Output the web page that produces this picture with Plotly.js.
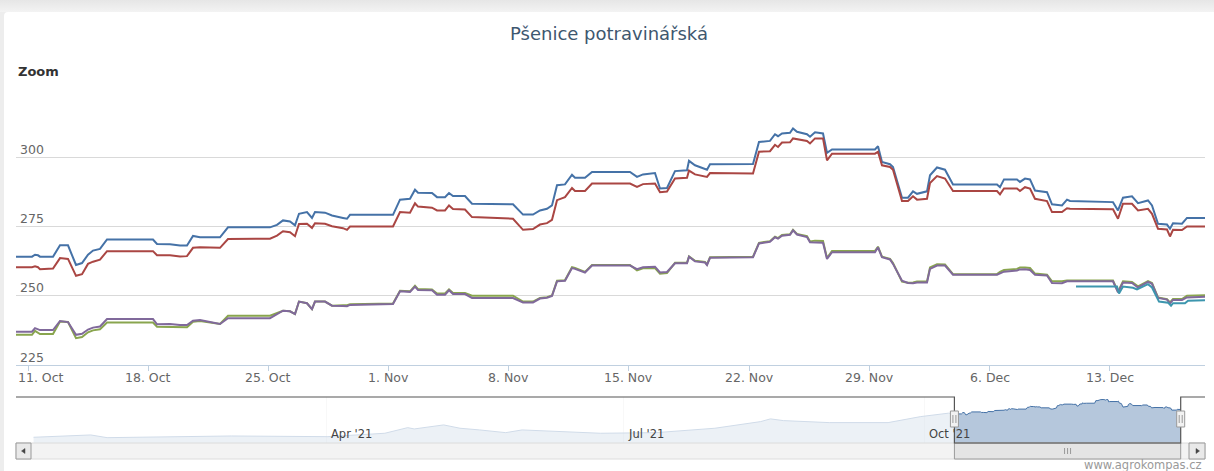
<!DOCTYPE html>
<html>
<head>
<meta charset="utf-8">
<script src="https://cdn.plot.ly/plotly-3.0.1.min.js"></script>
<style>
  html, body { margin:0; padding:0; }
  body { width:1214px; height:471px; overflow:hidden;
         background: linear-gradient(to bottom, #e6e6e6 0px, #f3f3f3 12px, #ededed 12px); }
  #chart { position:absolute; left:4px; top:12px; width:1210px; height:459px;
           background:#fff; border-top-left-radius:4px; overflow:hidden; }
</style>
</head>
<body>
<div id="chart"></div>
<script>
// ---------------- DATA ----------------
const chartTitle = 'Pšenice potravinářská';

const dates = [
'2021-10-10 07:13','2021-10-11 05:35','2021-10-11 09:47','2021-10-11 13:59','2021-10-11 16:46','2021-10-12 10:57','2021-10-12 20:44','2021-10-13 07:55','2021-10-13 19:06','2021-10-14 03:29',
'2021-10-14 11:52','2021-10-14 18:52','2021-10-15 04:38','2021-10-15 14:25','2021-10-18 06:43','2021-10-18 12:19','2021-10-19 06:29','2021-10-19 20:28','2021-10-20 06:14','2021-10-20 14:38',
'2021-10-21 00:25','2021-10-22 04:22','2021-10-22 15:33','2021-10-25 02:15','2021-10-25 12:03','2021-10-25 20:25','2021-10-26 06:13','2021-10-26 13:12','2021-10-26 18:47','2021-10-27 05:58',
'2021-10-27 12:58','2021-10-27 17:09','2021-10-28 07:09','2021-10-28 16:55','2021-10-29 08:18','2021-10-29 13:54','2021-10-29 18:05','2021-11-01 06:11','2021-11-01 15:59','2021-11-02 05:57',
'2021-11-02 12:56','2021-11-02 17:08','2021-11-03 12:42','2021-11-03 19:42','2021-11-04 06:53','2021-11-04 12:29','2021-11-04 18:03','2021-11-05 10:49','2021-11-05 20:37','2021-11-08 05:56',
'2021-11-08 19:54','2021-11-09 09:53','2021-11-09 19:39','2021-11-10 05:27','2021-11-10 12:26','2021-11-10 19:26','2021-11-11 06:36','2021-11-11 16:23','2021-11-11 20:35','2021-11-12 10:34',
'2021-11-12 20:21','2021-11-15 01:28','2021-11-15 11:15','2021-11-15 19:38','2021-11-16 12:24','2021-11-16 19:24','2021-11-17 05:11','2021-11-17 16:22','2021-11-18 09:09','2021-11-18 11:56',
'2021-11-18 20:20','2021-11-19 10:18','2021-11-19 13:06','2021-11-19 17:17','2021-11-22 05:24','2021-11-22 13:46','2021-11-23 05:09','2021-11-23 12:09','2021-11-23 16:20','2021-11-23 21:56',
'2021-11-24 09:07','2021-11-24 13:19','2021-11-24 18:53','2021-11-25 08:52','2021-11-25 13:05','2021-11-25 20:04','2021-11-26 07:15','2021-11-26 12:50','2021-11-26 19:50','2021-11-29 07:55',
'2021-11-29 12:07','2021-11-29 17:42','2021-11-30 04:54','2021-11-30 09:06','2021-11-30 21:40','2021-12-01 06:04','2021-12-01 13:03','2021-12-01 18:39','2021-12-02 08:37','2021-12-02 12:49',
'2021-12-02 22:35','2021-12-03 09:46','2021-12-03 20:57','2021-12-06 10:28','2021-12-06 14:38','2021-12-06 20:14','2021-12-07 14:24','2021-12-07 18:36','2021-12-08 01:35','2021-12-08 08:35',
'2021-12-08 15:34','2021-12-09 08:21','2021-12-09 15:20','2021-12-10 05:18','2021-12-10 12:18','2021-12-10 16:29','2021-12-13 04:36','2021-12-13 11:36','2021-12-13 18:35','2021-12-14 07:09',
'2021-12-14 15:33','2021-12-15 05:31','2021-12-15 11:07','2021-12-15 19:29','2021-12-16 08:05','2021-12-16 12:16','2021-12-16 16:28','2021-12-17 05:02','2021-12-17 12:01','2021-12-18 13:12'
];

const blueValues = [
264.1,264.1,264.8,264.6,264.1,264.1,268.2,268.2,261.1,261.8,
264.8,266.3,266.9,270.3,270.3,268.7,268.6,268.1,268.1,271.6,
271.1,271.1,274.7,274.7,275.6,277.2,276.8,275.4,279.6,280.2,
278.1,280.2,280.0,279.0,278.1,277.8,279.2,279.2,284.7,285.0,
288.3,287.2,287.1,285.6,285.6,287.1,286.0,286.0,283.2,283.0,
279.3,279.3,280.8,281.4,282.6,289.9,290.2,293.7,292.6,292.6,
294.7,294.7,292.9,293.8,294.3,288.7,288.9,295.0,295.3,298.7,
297.1,296.0,295.5,297.5,297.6,305.5,305.9,308.3,307.6,308.6,
308.8,310.4,309.2,308.3,307.4,309.0,308.6,301.6,302.8,302.8,
304.0,298.3,297.5,296.5,285.4,285.4,287.7,286.8,287.7,293.5,
296.3,295.5,290.2,290.2,289.2,292.0,292.0,291.1,292.3,292.0,
288.0,287.4,283.0,282.6,284.7,284.2,283.8,280.8,285.4,285.9,
283.4,284.4,282.6,276.0,275.7,274.2,276.2,276.0,278.1,278.1
];

const redValues = [
260.3,260.3,260.6,260.3,259.6,259.8,263.6,263.3,257.2,257.8,
261.5,262.3,263.0,266.1,266.1,264.6,264.6,264.2,264.3,267.3,
267.5,267.3,270.5,270.6,271.7,273.3,272.9,271.5,275.9,276.0,
274.5,276.2,276.0,275.1,274.4,273.8,275.0,275.0,280.2,280.0,
283.4,282.2,281.8,280.8,280.8,282.6,281.3,281.1,278.4,277.8,
273.8,274.1,275.7,276.2,277.4,284.5,285.6,288.9,287.8,287.8,
290.5,290.5,289.3,290.3,290.5,287.4,287.6,292.3,292.6,295.2,
293.8,293.2,292.9,294.3,294.1,302.0,302.2,304.5,303.7,305.3,
305.4,306.8,306.5,305.9,305.0,306.8,306.8,298.9,301.3,301.3,
302.0,297.1,296.5,295.5,284.2,284.2,285.9,284.7,285.0,290.7,
293.2,292.3,287.8,287.8,286.6,288.7,288.7,287.8,289.2,288.7,
285.0,284.2,280.2,280.2,281.6,281.4,281.2,277.8,283.2,283.2,
280.8,281.4,279.6,274.2,273.9,271.4,273.8,273.7,275.0,275.0
];

const greenValues = [
235.9,235.9,237.3,236.5,236.2,236.2,240.7,240.5,234.7,235.1,
236.8,237.5,237.9,240.3,240.3,238.8,238.8,238.6,238.6,240.6,
240.9,239.8,242.8,242.8,243.8,244.6,244.4,243.4,247.9,247.3,
245.2,247.9,247.9,246.4,246.6,246.6,246.9,247.2,251.8,251.6,
253.6,252.4,252.3,250.8,250.8,252.3,251.0,251.0,250.0,250.0,
247.9,247.9,249.2,249.5,250.1,255.4,255.6,260.3,260.0,258.6,
261.1,261.1,259.2,259.9,260.0,258.0,258.2,261.9,261.9,264.2,
262.6,262.2,261.3,263.9,264.1,269.1,269.7,271.3,270.8,271.9,
272.2,273.8,272.3,271.5,269.6,269.9,269.8,263.6,266.2,266.2,
267.7,264.1,263.3,261.8,255.1,254.7,254.8,255.1,255.1,260.2,
261.4,261.3,257.8,257.8,258.6,259.3,259.7,260.2,260.2,260.0,
258.0,257.6,255.2,255.2,255.5,255.5,255.5,251.5,255.2,255.0,
253.4,255.3,254.6,249.4,248.8,247.6,248.8,248.8,250.0,250.2
];

const purpleValues = [
237.0,237.0,238.3,237.8,237.6,237.6,240.9,240.5,235.9,236.3,
237.8,238.5,238.9,241.6,241.6,239.7,239.8,239.4,239.4,241.0,
241.2,239.8,241.9,241.9,243.5,244.6,244.4,243.4,247.9,247.3,
245.2,247.9,247.9,246.4,246.3,246.2,246.7,247.0,251.6,251.4,
253.3,252.1,252.0,250.4,250.4,252.0,250.6,250.6,249.2,249.2,
247.6,247.6,249.0,249.3,249.9,255.2,255.4,260.0,259.7,258.4,
260.9,260.9,259.6,260.3,260.5,258.4,258.6,261.7,261.7,264.1,
262.4,262.0,261.1,263.7,263.9,268.9,269.5,271.1,270.6,271.7,
272.0,273.6,272.1,271.2,269.3,269.2,269.1,263.3,265.7,265.7,
267.5,263.9,263.1,261.5,255.4,254.6,254.5,254.8,254.8,259.7,
260.9,260.9,257.6,257.6,258.1,258.7,259.1,259.5,259.6,259.3,
257.6,257.3,254.6,254.5,255.2,255.2,255.2,251.2,254.8,254.6,
253.0,255.0,254.3,249.2,248.6,247.2,248.5,248.5,249.4,249.6
];

const cyanDates = ['2021-12-11 00:53','2021-12-13 10:11','2021-12-13 13:00','2021-12-13 18:35','2021-12-14 08:33','2021-12-14 14:08','2021-12-15 05:31','2021-12-15 11:07','2021-12-15 20:54','2021-12-16 09:29','2021-12-16 13:41','2021-12-16 16:28','2021-12-17 09:14','2021-12-17 13:26','2021-12-18 13:12'];
const cyanValues = [253.3,253.3,250.8,253.3,252.9,252.3,254.2,253.0,247.9,247.5,246.4,247.3,247.3,248.2,248.4];

// navigator (whole year) – earlier part of the first series
const navDates = ['2021-01-01 12:00','2021-01-19','2021-01-24','2021-03-03','2021-04-01 14:00','2021-04-19','2021-04-26','2021-04-28','2021-05-07','2021-05-12','2021-05-18','2021-05-26','2021-05-31','2021-06-05','2021-06-11','2021-06-17','2021-06-24','2021-07-11','2021-07-29','2021-08-12','2021-08-15','2021-08-19','2021-09-02','2021-09-20','2021-09-30','2021-10-08 12:00'];
const navValues = [190.9,198.2,189.7,195.0,192.8,203.5,221.1,217.0,229.6,219.2,213.9,205.4,213.9,211.7,208.5,205.4,203.5,205.4,219.2,240.0,248.5,243.1,236.8,236.8,255.7,266.4];

const xTickDates = ['2021-10-11','2021-10-18','2021-10-25','2021-11-01','2021-11-08','2021-11-15','2021-11-22','2021-11-29','2021-12-06','2021-12-13'];
const xTickLabels = ['11. Oct','18. Oct','25. Oct','1. Nov','8. Nov','15. Nov','22. Nov','29. Nov','6. Dec','13. Dec'];
const yTicks = [225,250,275,300,325];
const yTickLabels = ['225','250','275','300',''];
const navTickDates = ['2021-04-01','2021-07-01','2021-10-01'];
const navTickLabels = ["Apr '21","Jul '21","Oct '21"];

const seriesColors = ['#4572A7','#AA4643','#89A54E','#80699B','#3D96AE'];

// ---------------- LAYOUT HELPERS ----------------
const xRange = ['2021-10-10 07:13','2021-12-18 13:12'];
const yRange = [225,325];
const navRange = ['2020-12-31 10:00','2021-12-21 09:30'];
const navYRange = [173,317];

// page-pixel -> paper helpers (plot area spans page x 16..1205, page y 88..458)
const PX = p => (p - 16) / 1189;
const PY = p => (458 - p) / 370;
const navDom = [PX(30), PX(1190)];
const navYDom = [PY(443), PY(397)];
const t = s => Date.parse(s.replace(' ', 'T') + (s.length === 10 ? 'T00:00' : '') + 'Z');
const navPaper = s => navDom[0] + (t(s) - t(navRange[0])) / (t(navRange[1]) - t(navRange[0])) * (navDom[1] - navDom[0]);
const selL = navPaper(xRange[0]);
const selR = navPaper(xRange[1]);
const dx = 1 / 1189;

const font = 'DejaVu Sans, Verdana, sans-serif';

const mk = (x, y, c) => ({x, y, type:'scatter', mode:'lines', line:{color:c, width:2}, hoverinfo:'skip', xaxis:'x', yaxis:'y'});
const traces = [
  mk(dates, blueValues, seriesColors[0]),
  mk(dates, redValues, seriesColors[1]),
  mk(dates, greenValues, seriesColors[2]),
  mk(dates, purpleValues, seriesColors[3]),
  mk(cyanDates, cyanValues, seriesColors[4]),
  { x: navDates.concat(dates), y: navValues.concat(blueValues), type:'scatter', mode:'lines',
    fill:'tozeroy', fillcolor:'rgba(69,114,167,0.40)', line:{color:'#4572A7', width:1},
    hoverinfo:'skip', xaxis:'x2', yaxis:'y2' }
];

const shapes = [];
const rect = (x0,x1,y0,y1,fill,line,lw) => shapes.push({type:'rect', xref:'paper', yref:'paper', x0, x1, y0, y1, fillcolor:fill, line:{color:line||'rgba(0,0,0,0)', width:lw||0}, layer:'above'});
const path = (p, fill, line, lw) => shapes.push({type:'path', xref:'paper', yref:'paper', path:p, fillcolor:fill||'rgba(0,0,0,0)', line:{color:line||'rgba(0,0,0,0)', width:lw||0}, layer:'above'});

// navigator masks
rect(navDom[0], selL, navYDom[0], navYDom[1], 'rgba(255,255,255,0.75)');
rect(selR, navDom[1], navYDom[0], navYDom[1], 'rgba(255,255,255,0.75)');
// scrollbar track
rect(PX(16), PX(1205), PY(459), PY(443), '#f3f3f3', '#dcdcdc', 1);
// scrollbar buttons
rect(PX(16), PX(31), PY(459), PY(443), '#e9e9e9', '#9a9a9a', 1);
rect(PX(1189), PX(1205), PY(459), PY(443), '#e9e9e9', '#9a9a9a', 1);
path(`M ${PX(21.5)},${PY(451)} L ${PX(25)},${PY(448.5)} L ${PX(25)},${PY(453.5)} Z`, '#444', '#444', 0.5);
path(`M ${PX(1199.5)},${PY(451)} L ${PX(1196)},${PY(448.5)} L ${PX(1196)},${PY(453.5)} Z`, '#444', '#444', 0.5);
// thumb
rect(selL, selR, PY(459), PY(443), '#e4e4e4', '#9a9a9a', 1);
const midT = (selL + selR) / 2;
[-3, 0, 3].forEach(o => path(`M ${midT + o*dx},${PY(448)} L ${midT + o*dx},${PY(454)}`, null, '#9a9a9a', 1));
// outline
path(`M ${PX(16)},${PY(397)} L ${selL},${PY(397)} L ${selL},${PY(443)} L ${selR},${PY(443)} L ${selR},${PY(397)} L ${PX(1205)},${PY(397)}`, null, '#555', 1.2);
// handles
[selL, selR].forEach(h => {
  rect(h - 4*dx, h + 4*dx, PY(427), PY(411), '#f2f2f2', '#999', 1);
  [-1.5, 1.5].forEach(o => path(`M ${h + o*dx},${PY(415)} L ${h + o*dx},${PY(423)}`, null, '#999', 1));
});

const annotations = [
  {text:'Zoom', xref:'paper', yref:'paper', x:PX(16), y:PY(71), xanchor:'left', yanchor:'middle', showarrow:false,
   font:{family:font, size:13, color:'#333', weight:'bold'}},
  {text:'www.agrokompas.cz', xref:'paper', yref:'paper', x:PX(1204), y:PY(465), xanchor:'right', yanchor:'middle', showarrow:false,
   font:{family:font, size:11.5, color:'#999'}}
];
// y-axis labels: left-aligned inside the plot, above their grid lines
yTicks.forEach((v, i) => annotations.push({text:yTickLabels[i], xref:'paper', yref:'y', x:PX(18), y:v, yshift:8,
  xanchor:'left', yanchor:'middle', showarrow:false, font:{family:font, size:12.5, color:'#666'}}));
// x-axis labels: centred on ticks, the first one justified to the plot's left edge
xTickDates.forEach((d, i) => annotations.push(i === 0
  ? {text:xTickLabels[i], xref:'paper', yref:'paper', x:PX(16), y:PY(377), xanchor:'left', yanchor:'middle', showarrow:false, font:{family:font, size:12.5, color:'#666'}}
  : {text:xTickLabels[i], xref:'x', yref:'paper', x:d, y:PY(377), xanchor:'center', yanchor:'middle', showarrow:false, font:{family:font, size:12.5, color:'#666'}}));
// navigator axis labels
navTickDates.forEach((d, i) => annotations.push({text:navTickLabels[i], xref:'x2', yref:'paper', x:d, xshift:3, y:PY(434),
  xanchor:'left', yanchor:'middle', showarrow:false, font:{family:font, size:11.5, color:'#444'}}));

const layout = {
  width:1210, height:459,
  margin:{l:12, r:9, t:76, b:13},
  paper_bgcolor:'rgba(0,0,0,0)', plot_bgcolor:'rgba(0,0,0,0)',
  showlegend:false,
  font:{family:font, color:'#666'},
  title:{text:chartTitle, font:{family:font, size:18, color:'#3E576F'}, x:0.5, xanchor:'center', xref:'container', y:1 - 21.5/459, yref:'container', yanchor:'middle'},
  xaxis:{type:'date', domain:[0,1], anchor:'y', range:xRange, tickvals:xTickDates, showticklabels:false,
         ticks:'outside', ticklen:5, tickcolor:'#C0D0E0', showline:true, linecolor:'#C0D0E0', linewidth:1,
         showgrid:false, zeroline:false, fixedrange:true},
  yaxis:{domain:[PY(365), 1], anchor:'x', range:yRange, tickvals:yTicks, showticklabels:false,
         ticks:'', showline:false, zeroline:false, gridcolor:'#d9d9d9', gridwidth:1, fixedrange:true},
  xaxis2:{type:'date', domain:navDom, anchor:'y2', range:navRange, tickvals:navTickDates, showticklabels:false,
          ticks:'', showline:false, zeroline:false, showgrid:true, gridcolor:'#e4e4e4', fixedrange:true},
  yaxis2:{domain:navYDom, anchor:'x2', range:navYRange, visible:false, fixedrange:true},
  shapes:shapes,
  annotations:annotations
};

Plotly.newPlot('chart', traces, layout, {displayModeBar:false, staticPlot:true});
</script>
</body>
</html>
